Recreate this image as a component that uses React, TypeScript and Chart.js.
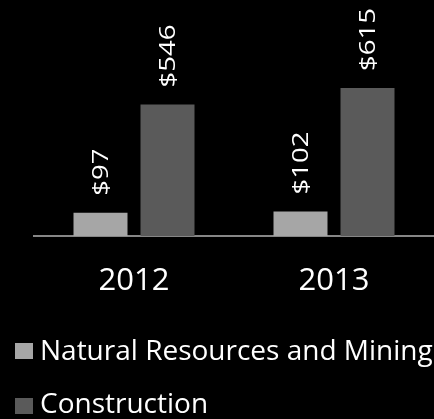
import React, { useEffect, useRef } from "react";
import { Chart, registerables } from "chart.js";

Chart.register(...registerables);

const categories = ["2012", "2013"];
const seriesNames = ["Natural Resources and Mining", "Construction"];
const naturalResources = [97, 102];
const construction = [546, 615];
const seriesColors = ["#a6a6a6", "#5a5a5a"];

const labelPlugin = {
  id: "barLabels",
  afterDatasetsDraw(chart: any) {
    const ctx = chart.ctx;
    chart.data.datasets.forEach((ds: any, di: number) => {
      const meta = chart.getDatasetMeta(di);
      meta.data.forEach((bar: any, i: number) => {
        const text = "$" + ds.data[i];
        ctx.save();
        ctx.translate(bar.x + 1, bar.y - 17);
        ctx.rotate(-Math.PI / 2);
        ctx.scale(1.25, 1);
        ctx.font = "22px 'Open Sans'";
        ctx.fillStyle = "#ffffff";
        ctx.textAlign = "left";
        ctx.textBaseline = "middle";
        ctx.fillText(text, 0, 0);
        ctx.restore();
      });
    });
  },
};

export default function App() {
  const ref = useRef<HTMLCanvasElement | null>(null);

  useEffect(() => {
    document.body.style.background = "#000";
    const chart = new Chart(ref.current as HTMLCanvasElement, {
      type: "bar",
      data: {
        labels: categories,
        datasets: [
          {
            label: seriesNames[0],
            data: naturalResources,
            backgroundColor: seriesColors[0],
            categoryPercentage: 0.67,
            barPercentage: 0.806,
          },
          {
            label: seriesNames[1],
            data: construction,
            backgroundColor: seriesColors[1],
            categoryPercentage: 0.67,
            barPercentage: 0.806,
          },
        ],
      },
      options: {
        animation: false,
        responsive: false,
        maintainAspectRatio: false,
        layout: { padding: { left: 34, right: 0, top: 0, bottom: 0 } },
        plugins: {
          legend: { display: false },
          tooltip: { enabled: false },
        },
        scales: {
          x: {
            grid: { display: false, drawTicks: false },
            border: { display: true, color: "#868686", width: 2 },
            ticks: {
              color: "#ffffff",
              padding: 27,
              font: { family: "'Open Sans'", size: 31 },
            },
            afterFit: (scale: any) => {
              scale.height = 183;
            },
          },
          y: {
            display: false,
            min: 0,
            max: 980,
          },
        },
      },
      plugins: [labelPlugin],
    });
    return () => chart.destroy();
  }, []);

  const legendTops = [335, 388];
  const boxTops = [343, 398];

  return (
    <div
      style={{
        position: "absolute",
        left: 0,
        top: 0,
        width: 434,
        height: 419,
        background: "#000",
        overflow: "hidden",
      }}
    >
      <canvas ref={ref} width={434} height={419} style={{ position: "absolute", left: 0, top: 0 }} />
      {seriesNames.map((name, i) => (
        <React.Fragment key={name}>
          <div
            style={{
              position: "absolute",
              left: 15,
              top: boxTops[i],
              width: 18,
              height: 16,
              background: seriesColors[i],
            }}
          />
          <div
            style={{
              position: "absolute",
              left: 40,
              top: legendTops[i],
              fontFamily: "'Open Sans'",
              fontSize: 28,
              lineHeight: "28px",
              color: "#ffffff",
              whiteSpace: "nowrap",
            }}
          >
            {name}
          </div>
        </React.Fragment>
      ))}
    </div>
  );
}
